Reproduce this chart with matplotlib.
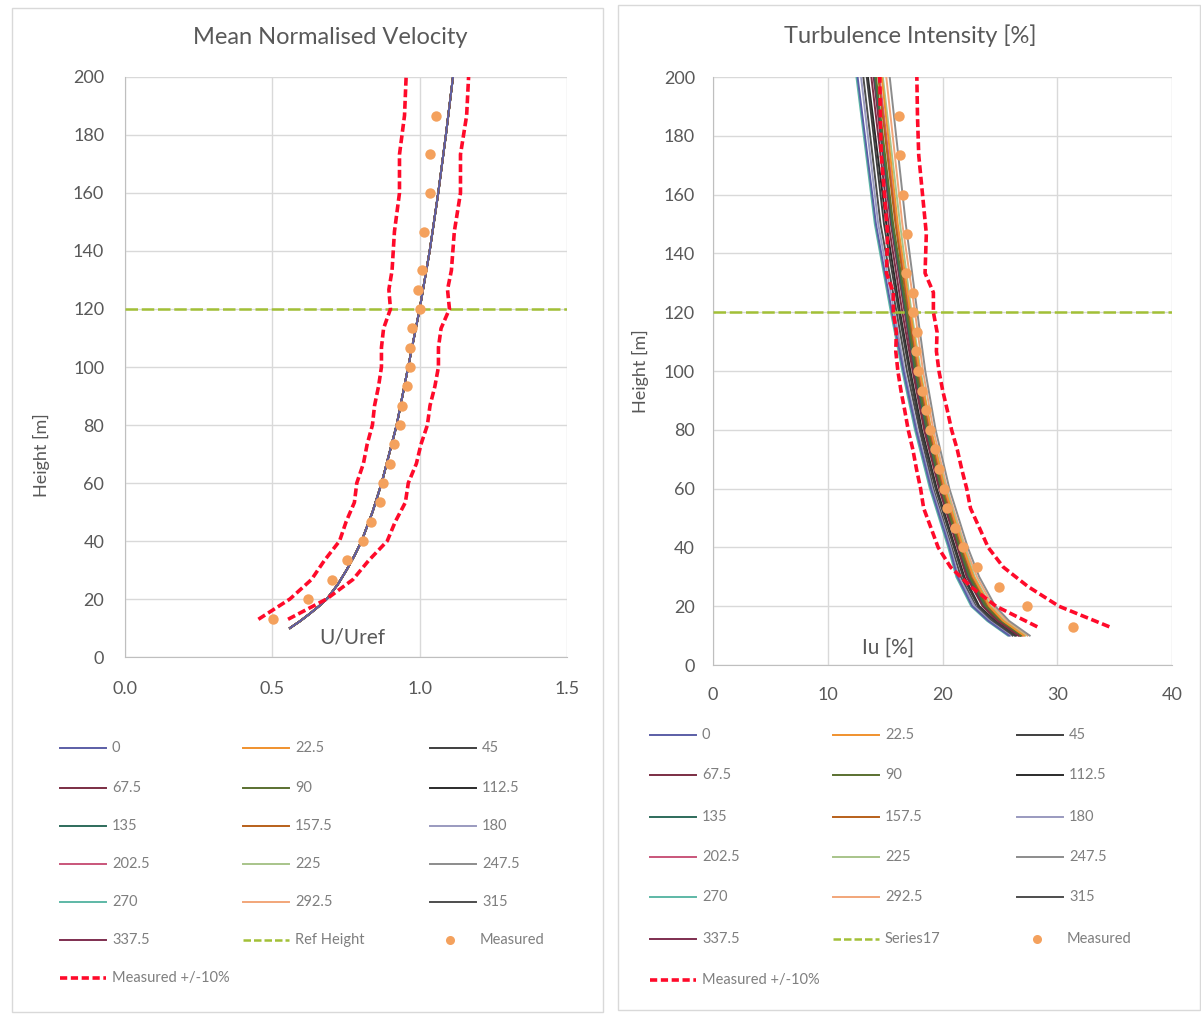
import numpy as np
import matplotlib.pyplot as plt
from matplotlib.lines import Line2D
from matplotlib.patches import Rectangle

plt.rcParams['font.family'] = ['Lato', 'DejaVu Sans']

# wind directions (legend labels)
directions = ['0', '22.5', '45', '67.5', '90', '112.5', '135', '157.5',
              '180', '202.5', '225', '247.5', '270', '292.5', '315', '337.5']
dirColors = ['#5B5EA6', '#F0922E', '#3F3F3F', '#7B2D43', '#5A7030', '#2B2B2B',
             '#2E6B5B', '#B8601A', '#9A9ABF', '#C9557A', '#A8C48A', '#8C8C8C',
             '#5DB8A6', '#F2A679', '#4D4D4D', '#7E2E4F']

# --- mean normalised velocity (all directions fall on one curve)
zModelL = [10, 12.5, 15, 17.5, 20, 25, 30, 35, 40, 50, 60, 80, 100, 120, 140, 160, 180, 200]
uModel = [0.56, 0.596, 0.628, 0.658, 0.685, 0.722, 0.752, 0.779, 0.803, 0.840, 0.871,
          0.922, 0.961, 1.0, 1.034, 1.063, 1.089, 1.113]

# --- turbulence intensity per direction
zModelR = [10, 15, 20, 30, 40, 60, 80, 100, 120, 150, 200]
iuModel = {
    '0':     [25.8, 24.0, 22.6, 21.3, 20.6, 19.0, 17.7, 16.6, 15.6, 14.2, 12.6],
    '22.5':  [27.1, 25.3, 24.1, 22.7, 21.8, 20.2, 19.0, 18.0, 17.2, 16.1, 14.7],
    '45':    [26.3, 24.5, 23.1, 21.8, 21.0, 19.4, 18.1, 17.1, 16.2, 14.9, 13.4],
    '67.5':  [26.6, 24.8, 23.5, 22.1, 21.3, 19.7, 18.4, 17.4, 16.5, 15.3, 13.8],
    '90':    [26.8, 25.0, 23.8, 22.4, 21.5, 19.9, 18.7, 17.7, 16.9, 15.7, 14.2],
    '112.5': [26.4, 24.6, 23.2, 21.9, 21.1, 19.5, 18.2, 17.2, 16.3, 15.1, 13.5],
    '135':   [26.8, 25.0, 23.7, 22.3, 21.4, 19.8, 18.6, 17.6, 16.8, 15.6, 14.1],
    '157.5': [26.9, 25.1, 23.9, 22.5, 21.6, 20.0, 18.8, 17.8, 17.0, 15.9, 14.4],
    '180':   [25.9, 24.1, 22.8, 21.4, 20.7, 19.1, 17.8, 16.7, 15.8, 14.4, 12.9],
    '202.5': [27.0, 25.2, 24.0, 22.6, 21.7, 20.1, 18.9, 17.9, 17.1, 16.0, 14.5],
    '225':   [27.2, 25.4, 24.2, 22.8, 21.9, 20.3, 19.0, 18.1, 17.3, 16.3, 14.8],
    '247.5': [27.6, 25.8, 24.6, 23.2, 22.2, 20.6, 19.4, 18.5, 17.8, 16.8, 15.4],
    '270':   [25.7, 23.9, 22.5, 21.2, 20.5, 18.9, 17.6, 16.5, 15.5, 14.1, 12.5],
    '292.5': [27.4, 25.6, 24.4, 23.0, 22.0, 20.4, 19.2, 18.3, 17.6, 16.5, 15.1],
    '315':   [26.1, 24.3, 22.9, 21.6, 20.8, 19.2, 18.0, 16.9, 16.0, 14.6, 13.1],
    '337.5': [26.7, 24.9, 23.6, 22.2, 21.4, 19.8, 18.5, 17.5, 16.7, 15.5, 14.0],
}

# --- measurements
zMeas = [13, 20, 26.7, 33.3, 40, 46.7, 53.3, 60, 66.7, 73.3, 80, 86.7, 93.3,
         100, 106.7, 113.3, 120, 126.7, 133.3, 146.7, 160, 173.3, 186.7]
uMeas = [0.503, 0.622, 0.703, 0.752, 0.809, 0.834, 0.865, 0.874, 0.899, 0.913, 0.933, 0.941,
         0.956, 0.967, 0.967, 0.975, 1.001, 0.995, 1.007, 1.016, 1.035, 1.035, 1.054]
iuMeas = [31.4, 27.4, 24.95, 23.0, 21.8, 21.1, 20.4, 20.1, 19.7, 19.35, 18.9, 18.56,
          18.2, 17.9, 17.7, 17.75, 17.46, 17.46, 16.8, 16.9, 16.6, 16.3, 16.2]
# band curves run up to 200 m
zBand = zMeas + [200]
uBandBase = uMeas + [1.06]
iuBandBase = iuMeas + [16.15]

refHeight = 120

W, H = 1201, 1014
fig = plt.figure(figsize=(W / 100, H / 100), dpi=100)

def fx(px):
	return px / W

def fy(py):
	return 1 - py / H

textColor = '#595959'
redColor = '#FF0A2A'
measColor = '#F4A15D'
refColor = '#A2C037'

# panel frames
fig.add_artist(Rectangle((fx(12), fy(1012)), fx(603) - fx(12), fy(8) - fy(1012),
                         transform=fig.transFigure, fill=False, edgecolor='#d9d9d9', lw=1))
fig.add_artist(Rectangle((fx(618), fy(1010)), fx(1200) - fx(618), fy(5) - fy(1010),
                         transform=fig.transFigure, fill=False, edgecolor='#d9d9d9', lw=1))

def StyleAxes(ax, xlim, xticks, xfmt, xpad, ypad):
	ax.set_xlim(xlim)
	ax.set_ylim(0, 200)
	ax.set_xticks(xticks)
	ax.set_xticklabels([xfmt.format(t) for t in xticks])
	ax.set_yticks(range(0, 201, 20))
	ax.grid(True, color='#d9d9d9', lw=1)
	ax.set_axisbelow(True)
	for s in ['top', 'right']:
		ax.spines[s].set_visible(False)
	for s in ['left', 'bottom']:
		ax.spines[s].set_color('#bfbfbf')
	ax.tick_params(length=0, labelsize=13, colors=textColor)
	ax.tick_params(axis='x', pad=xpad)
	ax.tick_params(axis='y', pad=ypad)

def DrawProfiles(ax, modelZ, modelValues, bandBase, meas, refX):
	# drawn last-to-first so the first direction ends on top
	for name, col in reversed(list(zip(directions, dirColors))):
		ax.plot(modelValues[name], modelZ, '-', color=col, lw=1.4, zorder=3)
	ax.plot(refX, [refHeight, refHeight], color=refColor, lw=1.8, dashes=(5, 1.5), zorder=4)
	ax.plot(meas, zMeas, 'o', color=measColor, ms=7.5, mec='none', zorder=5)
	base = np.array(bandBase)
	ax.plot(base * 0.9, zBand, color=redColor, lw=2.6, dashes=(2.2, 1), zorder=6)
	ax.plot(base * 1.1, zBand, color=redColor, lw=2.6, dashes=(2.2, 1), zorder=6)

# left chart
axL = fig.add_axes([fx(125), fy(657), (567 - 125) / W, (657 - 77) / H])
StyleAxes(axL, (0, 1.5), [0, 0.5, 1.0, 1.5], '{:.1f}', 17, 15)
leftModel = {name: uModel for name in directions}
DrawProfiles(axL, zModelL, leftModel, uBandBase, uMeas, [0, 1.5])
fig.text(fx(330), fy(38), 'Mean Normalised Velocity', fontsize=17, color=textColor,
         ha='center', va='center')
axL.set_ylabel('Height [m]', fontsize=13, color=textColor)
axL.yaxis.set_label_coords(-0.17, 0.348)
axL.text(0.514, 0.034, 'U/Uref', transform=axL.transAxes, ha='center', va='center',
         fontsize=15, color=textColor)

# right chart
axR = fig.add_axes([fx(713), fy(665), (1172 - 713) / W, (665 - 77) / H])
StyleAxes(axR, (0, 40), [0, 10, 20, 30, 40], '{:d}', 16, 13)
DrawProfiles(axR, zModelR, iuModel, iuBandBase, iuMeas, [0, 40])
fig.text(fx(910), fy(36), 'Turbulence Intensity [%]', fontsize=17, color=textColor,
         ha='center', va='center')
axR.set_ylabel('Height [m]', fontsize=13, color=textColor)
axR.yaxis.set_label_coords(-0.14, 0.5)
axR.text(0.381, 0.029, 'Iu [%]', transform=axR.transAxes, ha='center', va='center',
         fontsize=15, color=textColor)

# legends (row-major, 3 columns, like the spreadsheet)
def DrawLegend(colX, rowY, refLabel):
	entries = [(d, 'line', c) for d, c in zip(directions, dirColors)]
	entries += [(refLabel, 'ref', refColor), ('Measured', 'marker', measColor),
	            ('Measured +/-10%', 'band', redColor)]
	for i, (label, kind, col) in enumerate(entries):
		r, c = divmod(i, 3)
		x0 = colX[c]
		y = fy(rowY[r])
		if kind == 'marker':
			fig.add_artist(Line2D([fx(x0 + 20)], [y], marker='o', ms=6.5, color=col,
			                      mec='none', transform=fig.transFigure))
			tx = x0 + 50
		else:
			kw = dict(color=col, lw=1.4)
			if kind == 'ref':
				kw = dict(color=col, lw=1.8, dashes=(3, 1.2))
			elif kind == 'band':
				kw = dict(color=col, lw=2.6, dashes=(2, 1))
			fig.add_artist(Line2D([fx(x0), fx(x0 + 46)], [y, y], transform=fig.transFigure, **kw))
			tx = x0 + 52
		fig.text(fx(tx), y, label, fontsize=10.5, color='#7f7f7f', ha='left', va='center')

DrawLegend([60, 243, 430], [748, 788, 826, 864, 902, 940, 978], 'Ref Height')
DrawLegend([650, 833, 1017], [735, 775, 817, 857, 897, 939, 980], 'Series17')

fig.savefig('out.png', dpi=100)
